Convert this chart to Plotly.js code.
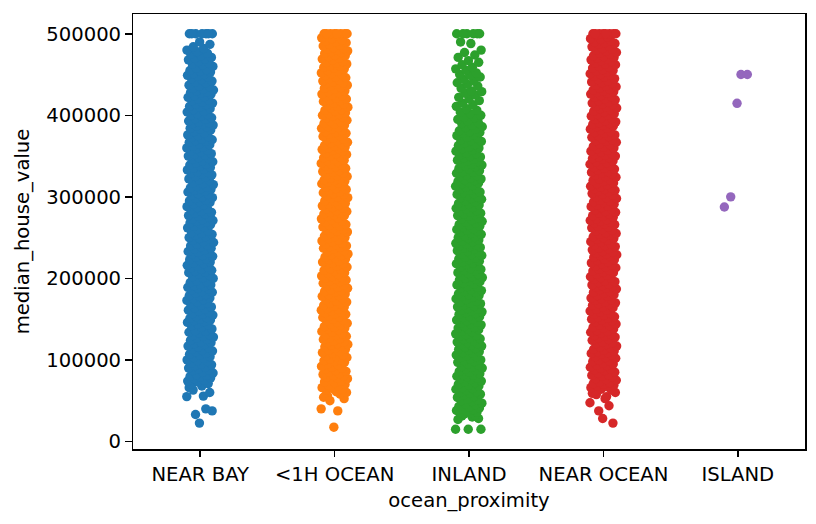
<!DOCTYPE html>
<html>
<head>
<meta charset="utf-8">
<script src="https://cdn.plot.ly/plotly-3.0.1.min.js"></script>
<style>html,body{margin:0;padding:0;background:#fff;}#chart{width:816px;height:524px;}</style>
</head>
<body>
<div id="chart"></div>
<script>
// Category names (x tick labels)
const categories = ["NEAR BAY", "<1H OCEAN", "INLAND", "NEAR OCEAN", "ISLAND"];

// median_house_value per category, in thousands of USD
const nearBay = [55.0, 55.6, 63, 60.0, 22.5, 66, 40.0, 33.0, 37.5, 68, 70,
71,73,74,75,77,78,79, 80,81,82,84,85,87,88,89, 90,91,93,94,95,96,98,99,
100,102,103,104,106,107,108, 110,111,112,113,115,116,117,119, 120,121,122,124,125,127,128,129,
130,131,133,134,135,136,138, 140,142,143,144,146,147,148,149, 150,151,152,153,155,156,157,159,
160,161,162,164,165,167,168, 170,171,173,174,175,176,178,179, 180,182,183,184,186,187,188,189,
190,191,192,193,195,196,197, 200,201,202,204,205,207,208,209, 210,211,213,214,215,216,218,219,
220,222,223,224,226,227,228, 230,231,232,233,235,236,237,239, 240,241,242,244,245,247,248,249,
250,251,253,254,255,256,258, 260,262,263,264,266,267,268,269, 270,271,272,273,275,276,277,279,
280,281,282,284,285,287,288, 290,291,293,294,295,296,298,299, 300,302,303,304,306,307,308,309,
310,311,312,313,315,316,317, 320,321,322,324,325,327,328,329, 330,331,333,334,335,336,338,339,
340,342,343,344,346,347,348, 350,351,352,353,355,356,357,359, 360,361,362,364,365,367,368,369,
370,371,373,374,375,376,378, 380,382,383,384,386,387,388,389, 390,391,392,393,395,396,397,399,
400,401,402,404,405,407,408, 410,411,413,414,415,416,418,419, 420,422,423,424,426,427,428,429,
430,431,432,433,435,436,437, 440,441,442,444,445,447,448,449, 450,451,453,454,455,456,458,
460,462,463,464,466,468,469, 470,471,473,475,476,478, 480,482,484,487,490,
500.001,500.001,500.001,500.001,500.001,500.001,500.001];

const lessThan1hOcean = [40.0, 37.5, 56, 52.5, 17.5, 54.2, 58, 50.0,
60,61,63,64,65,66,68,69, 70,72,73,74,76,77,78,79, 80,81,82,83,85,86,87,89,
90,91,92,94,95,97,98,99, 100,101,103,104,105,106,108,109, 110,112,113,114,116,117,118,119,
120,121,122,123,125,126,127,129, 130,131,132,134,135,137,138,139, 140,141,143,144,145,146,148,149,
150,152,153,154,156,157,158,159, 160,161,162,163,165,166,167,169, 170,171,172,174,175,177,178,179,
180,181,183,184,185,186,188,189, 190,192,193,194,196,197,198,199, 200,201,202,203,205,206,207,209,
210,211,212,214,215,217,218,219, 220,221,223,224,225,226,228,229, 230,232,233,234,236,237,238,239,
240,241,242,243,245,246,247,249, 250,251,252,254,255,257,258,259, 260,261,263,264,265,266,268,269,
270,272,273,274,276,277,278,279, 280,281,282,283,285,286,287,289, 290,291,292,294,295,297,298,299,
300,301,303,304,305,306,308,309, 310,312,313,314,316,317,318,319, 320,321,322,323,325,326,327,329,
330,331,332,334,335,337,338,339, 340,341,343,344,345,346,348,349, 350,352,353,354,356,357,358,359,
360,361,362,363,365,366,367,369, 370,371,372,374,375,377,378,379, 380,381,383,384,385,386,388,389,
390,392,393,394,396,397,398,399, 400,401,402,403,405,406,407,409, 410,411,412,414,415,417,418,419,
420,421,423,424,425,426,428,429, 430,432,433,434,436,437,438,439, 440,441,442,443,445,446,447,449,
450,451,452,454,455,457,458,459, 460,461,463,464,465,466,468,469, 470,472,473,474,476,477,478,479,
480,481,482,483,485,486,487,489, 490,491,492,494,495,497,498,
500.001,500.001,500.001,500.001,500.001,500.001,500.001,500.001];

const inland = [14.999, 30.0, 31.3, 28.1, 14.999, 26.9, 32.5, 33.8, 14.999, 35, 35.5, 36,37,38,39,
40,41,42,43,45,46,47,49, 50,51,52,54,55,57,58,59, 60,61,63,64,65,66,68,69,
70,72,73,74,76,77,78,79, 80,81,82,83,85,86,87,89, 90,91,92,94,95,97,98,99,
100,101,103,104,105,106,108,109, 110,112,113,114,116,117,118,119, 120,121,122,123,125,126,127,129,
130,131,132,134,135,137,138,139, 140,141,143,144,145,146,148,149, 150,152,153,154,156,157,158,159,
160,161,162,163,165,166,167,169, 170,171,172,174,175,177,178,179, 180,181,183,184,185,186,188,189,
190,192,193,194,196,197,198,199, 200,201,202,203,205,206,207,209, 210,211,212,214,215,217,218,219,
220,221,223,224,225,226,228,229, 230,232,233,234,236,237,238,239, 240,241,242,243,245,246,247,249,
250,251,252,254,255,257,258,259, 260,261,263,264,265,266,268,269, 270,272,273,274,276,277,278,279,
280,281,282,283,285,286,287,289, 290,291,292,294,295,297,298,299, 300,301,303,304,305,306,308,309,
310,312,313,314,316,317,318,319, 320,321,322,323,325,326,327,329, 330,331,332,334,335,337,338,339,
340,341,343,344,345,346,348,349,
350,351,353,354,356,357,359, 360,361,363,364,366,368,369, 370,372,373,375,376,378,379,
380,381,383,385,386,388, 390,391,393,395,397,398,
400,402,404,406,408, 411,413,415,418, 420,422,425,427,429, 430,433,436,438, 440,442,444,447,449,
450,452,455,457,459, 462,465,467, 471,474,477, 480,488, 490,
500.001,500.001,500.001,500.001,500.001,500.001];

const nearOcean = [47.5, 55, 57.5, 22.5, 28.1, 59, 43.8, 37.5, 60, 52.5, 62,
63,64,66,67,68,69, 70,71,72,73,75,76,77,79, 80,81,82,84,85,87,88,89,
90,91,93,94,95,96,98,99, 100,102,103,104,106,107,108,109, 110,111,112,113,115,116,117,119,
120,121,122,124,125,127,128,129, 130,131,133,134,135,136,138,139, 140,142,143,144,146,147,148,149,
150,151,152,153,155,156,157,159, 160,161,162,164,165,167,168,169, 170,171,173,174,175,176,178,179,
180,182,183,184,186,187,188,189, 190,191,192,193,195,196,197,199, 200,201,202,204,205,207,208,209,
210,211,213,214,215,216,218,219, 220,222,223,224,226,227,228,229, 230,231,232,233,235,236,237,239,
240,241,242,244,245,247,248,249, 250,251,253,254,255,256,258,259, 260,262,263,264,266,267,268,269,
270,271,272,273,275,276,277,279, 280,281,282,284,285,287,288,289, 290,291,293,294,295,296,298,299,
300,302,303,304,306,307,308,309, 310,311,312,313,315,316,317,319, 320,321,322,324,325,327,328,329,
330,331,333,334,335,336,338,339, 340,342,343,344,346,347,348,349, 350,351,352,353,355,356,357,359,
360,361,362,364,365,367,368,369, 370,371,373,374,375,376,378,379, 380,382,383,384,386,387,388,389,
390,391,392,393,395,396,397,399, 400,401,402,404,405,407,408,409, 410,411,413,414,415,416,418,419,
420,422,423,424,426,427,428,429, 430,431,432,433,435,436,437,439, 440,441,442,444,445,447,448,449,
450,451,453,454,455,456,458,459, 460,462,463,464,466,467,468,469, 470,471,472,473,475,476,477,479,
480,481,482,484,485,487,488,489, 490,491,493,494,496,498,
500.001,500.001,500.001,500.001,500.001,500.001,500.001,500.001];

const island = [287.5, 450.0, 300.0, 450.0, 414.7];

// Axis ticks
const yTickVals = [0, 100000, 200000, 300000, 400000, 500000];
const yTickText = ["0", "100000", "200000", "300000", "400000", "500000"];

// Styles (tab10 palette)
const colors = ["#1f77b4", "#ff7f0e", "#2ca02c", "#d62728", "#9467bd"];

const series = [nearBay, lessThan1hOcean, inland, nearOcean, island];

// deterministic strip jitter (low-discrepancy), +-0.1 category units
function jitter(i) { return ((i * 0.6180339887498949) % 1 - 0.5) * 0.2; }

const traces = series.map((vals, k) => ({
  type: "scatter",
  mode: "markers",
  x: vals.map((v, i) => k + jitter(i)),
  y: vals.map(v => v * 1000),
  marker: { color: colors[k], size: 9.4, line: { width: 0 } },
  hoverinfo: "skip",
  showlegend: false
}));

const fontFam = "DejaVu Sans, sans-serif";
const fs = 19.6;
const layout = {
  width: 816, height: 524,
  margin: { l: 133, r: 11, t: 14, b: 75, pad: 0 },
  paper_bgcolor: "#ffffff", plot_bgcolor: "#ffffff",
  showlegend: false,
  font: { family: fontFam, size: fs, color: "#000000" },
  xaxis: {
    range: [-0.5, 4.5],
    tickmode: "array", tickvals: [0, 1, 2, 3, 4], ticktext: categories,
    ticks: "outside", ticklen: 6.5, tickwidth: 1.5, tickcolor: "#000000",
    showline: true, linewidth: 1.5, linecolor: "#000000", mirror: true,
    showgrid: false, zeroline: false,
    tickfont: { family: fontFam, size: fs, color: "#000000" },
    title: { text: "ocean_proximity", font: { family: fontFam, size: fs, color: "#000000" }, standoff: 9 },
    automargin: false
  },
  yaxis: {
    range: [-9251, 524251],
    tickmode: "array", tickvals: yTickVals, ticktext: yTickText,
    ticks: "outside", ticklen: 6.5, tickwidth: 1.5, tickcolor: "#000000",
    showline: true, linewidth: 1.5, linecolor: "#000000", mirror: true,
    showgrid: false, zeroline: false,
    tickfont: { family: fontFam, size: fs, color: "#000000" },
    title: { text: "median_house_value", font: { family: fontFam, size: fs, color: "#000000" }, standoff: 11 },
    automargin: false
  }
};

Plotly.newPlot("chart", traces, layout, { staticPlot: true, displayModeBar: false });
</script>
</body>
</html>
